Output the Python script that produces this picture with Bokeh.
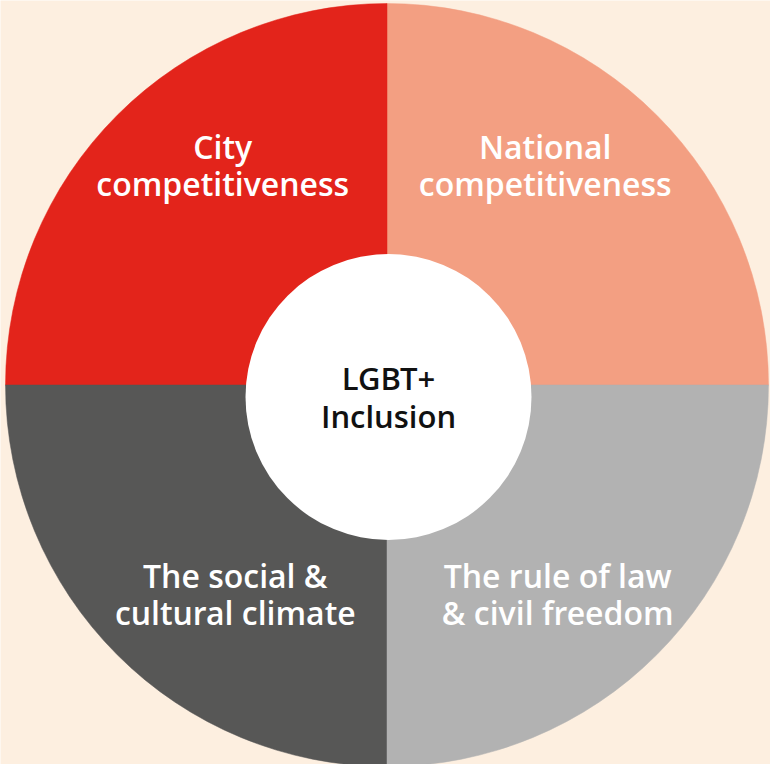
import math
from bokeh.plotting import figure
from bokeh.models import Range1d, ColumnDataSource
from bokeh.core.properties import value
from bokeh.embed import file_html
from bokeh.resources import INLINE

# ---- data ----
categories = ["National\ncompetitiveness", "City\ncompetitiveness",
              "The social &\ncultural climate", "The rule of law\n& civil freedom"]
shares = [1, 1, 1, 1]
colors = ["#F39F82", "#E3241B", "#575756", "#B2B2B2"]
center_label = "LGBT+\nInclusion"

# ---- layout (pixel units) ----
W, H = 770, 764
cx, cy = 386.5, 379.5      # outer circle centre
R = 381.5
icx, icy, iR = 388.0, 367.5, 143.0   # inner white disc
lab_rx, lab_ry = 228.0, 303.0        # label ellipse radii
lab_dy = 5.5                          # label ellipse centre offset
shift_upper, shift_lower = -3.0, 9.5  # horizontal nudges per row

total = float(sum(shares))
starts, ends, lx, ly = [], [], [], []
a = 0.0
for s in shares:
    a0 = a
    a1 = a + 2 * math.pi * s / total
    starts.append(a0)
    ends.append(a1)
    mid = (a0 + a1) / 2
    upper = math.sin(mid) > 0
    lx.append(cx + (shift_upper if upper else shift_lower) + lab_rx * math.cos(mid))
    ly.append(cy + lab_dy + lab_ry * math.sin(mid))
    a = a1

src = ColumnDataSource(dict(cat=categories, start=starts, end=ends,
                            color=colors, lx=lx, ly=ly))

p = figure(width=W, height=H, output_backend="svg", toolbar_location=None,
           x_range=Range1d(0, W), y_range=Range1d(0, H), min_border=0)
p.axis.visible = False
p.grid.visible = False
p.outline_line_color = None
p.background_fill_color = "#FDEFE0"
p.border_fill_color = "#FDEFE0"

p.wedge(x=cx, y=cy, radius=R, start_angle="start", end_angle="end",
        fill_color="color", line_color="color", line_width=0.5, source=src)
p.scatter(x=[icx], y=[icy], size=2 * iR, marker="circle",
          fill_color="white", line_color=None)

p.text(x="lx", y="ly", text="cat", source=src, text_color="white",
       text_font=value("Open Sans SemiBold"), text_font_size="32px",
       text_align="center", text_baseline="middle", text_line_height=0.86)
p.text(x=[icx], y=[icy], text=[center_label], text_color="#111111",
       text_font=value("Open Sans SemiBold"), text_font_size="31px",
       text_align="center", text_baseline="middle", text_line_height=0.92)

open("out.html", "w").write(file_html(p, INLINE))
